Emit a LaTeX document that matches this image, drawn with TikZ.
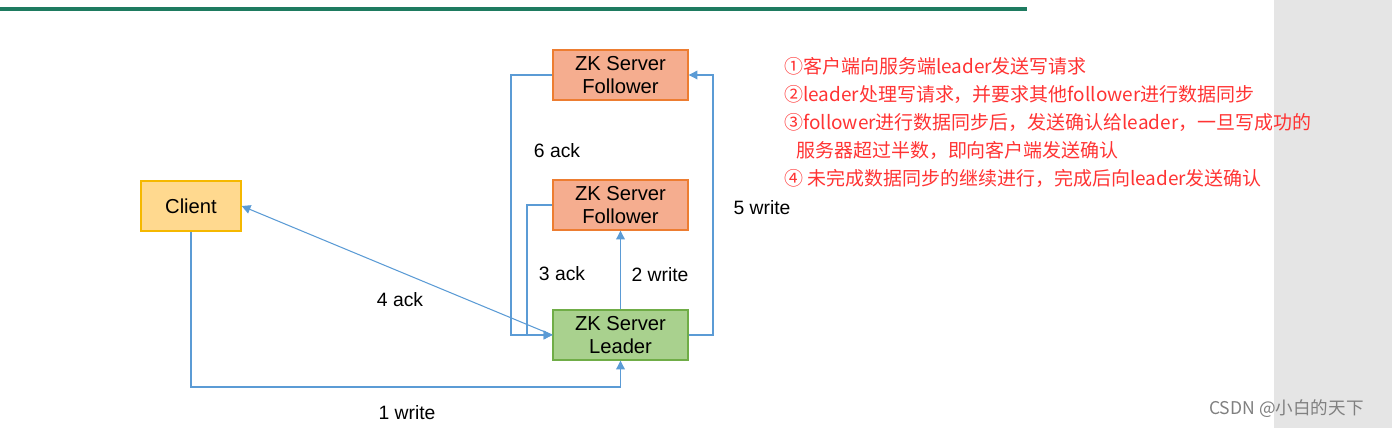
\documentclass[tikz,border=0pt]{standalone}
\usepackage{fontspec}
\setmainfont{Liberation Sans}
\newfontfamily\cjk{Noto Sans CJK SC}
\usetikzlibrary{positioning,arrows.meta}
\definecolor{lineblue}{HTML}{5B9BD5}
\definecolor{folfill}{HTML}{F5AD8F}
\definecolor{folborder}{HTML}{ED7D31}
\definecolor{leadfill}{HTML}{A9D18E}
\definecolor{leadborder}{HTML}{70AD47}
\definecolor{clifill}{HTML}{FFD98F}
\definecolor{cliborder}{HTML}{F5B800}
\definecolor{notered}{HTML}{FF3333}
\definecolor{topgreen}{HTML}{1E7B60}
\begin{document}
\begin{tikzpicture}[
  x=0.02cm, y=-0.02cm,
  box/.style={draw, thick, align=center, minimum width=2.7cm, minimum height=1cm, font=\fontsize{11.5}{13.5}\selectfont},
  follower/.style={box, fill=folfill, draw=folborder},
  leader/.style={box, fill=leadfill, draw=leadborder},
  client/.style={box, fill=clifill, draw=cliborder, minimum width=2cm},
  arrow/.style={-{Triangle[length=5pt,width=5pt]}, lineblue, line width=0.6pt},
  lbl/.style={font=\fontsize{11}{13}\selectfont},
  note/.style={anchor=west, text=notered, font=\cjk\fontsize{10.8}{13}\selectfont}
]
\useasboundingbox (0,0) rectangle (1392,428);
\fill[gray!20] (1274,0) rectangle (1392,428);
\draw[topgreen, line width=2pt] (0,9) -- (1027,9);

\node[follower] (fol1) at (620.5,75) {ZK Server\\Follower};
\node[follower] (fol2) at (620.5,205) {ZK Server\\Follower};
\node[leader] (lead) at (620.5,335) {ZK Server\\Leader};
\node[client] (cli) at (191,206) {Client};

\coordinate (c1) at (191,387);
\coordinate (c3) at (527,205);
\coordinate (c5) at (713,335);
\coordinate (c6) at (511,75);

\draw[arrow] (cli.south) -- (c1) -| (lead.south);
\draw[arrow] (lead.north) -- (fol2.south);
\draw[arrow] (fol2.west) -- (c3) |- (lead.west);
\draw[arrow] (lead.west) -- (cli.east);
\draw[arrow] (lead.east) -- (c5) |- (fol1.east);
\draw[arrow] (fol1.west) -- (c6) |- (lead.west);

\node[lbl] (l1) at (407,413) {1 write};
\node[lbl] (l2) at (660,275) {2 write};
\node[lbl] (l3) at (562,274) {3 ack};
\node[lbl] (l4) at (400,300) {4 ack};
\node[lbl] (l5) at (762,208) {5 write};
\node[lbl] (l6) at (557,151) {6 ack};

\node[note] (n1) at (778,66) {①客户端向服务端leader发送写请求};
\node[note] (n2) at (778,94) {②leader处理写请求，并要求其他follower进行数据同步};
\node[note] (n3) at (778,122) {③follower进行数据同步后，发送确认给leader，一旦写成功的};
\node[note] (n3b) at (790,150) {服务器超过半数，即向客户端发送确认};
\node[note] (n4) at (778,178) {④ 未完成数据同步的继续进行，完成后向leader发送确认};
\node[anchor=west, text=gray, font=\cjk\fontsize{10}{12}\selectfont] (mark) at (1203,409) {CSDN @小白的天下};
\end{tikzpicture}
\end{document}
